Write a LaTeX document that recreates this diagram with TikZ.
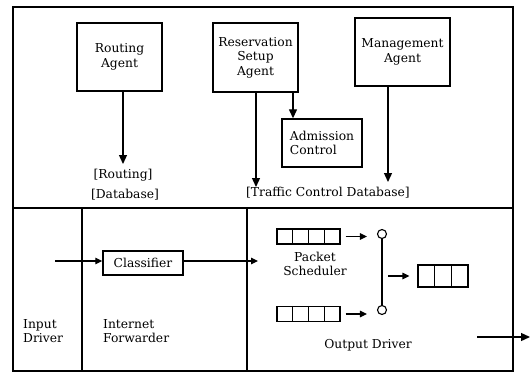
\documentclass[tikz,border=0pt]{standalone}
\usepackage{fontspec}
\setmainfont{DejaVu Serif}
\usetikzlibrary{arrows.meta,calc}
\begin{document}
\begin{tikzpicture}[x=1pt,y=-1pt,
  every node/.style={font=\fontsize{12.3}{14.5}\selectfont},
  frame/.style={line width=1.1pt},
  box/.style={draw,line width=1.4pt,rectangle,inner sep=0pt,align=center},
  lbl/.style={inner sep=0pt,align=center},
  lbll/.style={inner sep=0pt,align=left},
  arr/.style={line width=1.3pt,-{Triangle[length=9pt,width=8pt]}},
  sarr/.style={line width=1.2pt,-{Triangle[length=7pt,width=6.5pt]}},
  queue/.style={draw,line width=1.2pt,rectangle,inner sep=0pt},
  sw/.style={draw,line width=1.1pt,circle,inner sep=0pt,minimum size=9pt}]
\useasboundingbox (0,0) rectangle (530,372);
% frame
\draw[frame] (13,7) rectangle (513,371);
\draw[frame] (13,208) -- (513,208);
\draw[frame] (82,208) -- (82,371);
\draw[frame] (247,208) -- (247,371);
% top boxes
\node[box,minimum width=85pt,minimum height=68pt] (ra) at (119.5,57) {Routing\\Agent};
\node[box,minimum width=85pt,minimum height=69pt] (rsa) at (255.5,57.5) {Reservation\\Setup\\Agent};
\node[box,minimum width=95pt,minimum height=68pt] (ma) at (402.5,52) {Management\\Agent};
\node[box,minimum width=80pt,minimum height=48pt,align=left] (ac) at (322,143) {Admission\\Control};
% labels
\node[lbl] (rl) at (123,175) {[Routing]};
\node[lbl] (dl) at (125,195) {[Database]};
\node[lbl,anchor=west] (tcd) at (246,193) {[Traffic Control Database]};
% top arrows
\coordinate (ra1) at (123,91);
\coordinate (ra2) at (123,164);
\draw[arr] (ra1) -- (ra2);
\coordinate (rs1) at (256,92);
\coordinate (rs2) at (256,187);
\draw[arr] (rs1) -- (rs2);
\coordinate (ma1) at (388,86);
\coordinate (ma2) at (388,182);
\draw[arr] (ma1) -- (ma2);
\draw[arr] (rsa.south -| 293,0) -- (ac.north -| 293,0);
% bottom left
\node[box,minimum width=80pt,minimum height=24pt] (cl) at (143,263) {Classifier};
\coordinate (in) at (55,261);
\coordinate (cout) at (258,261);
\draw[sarr] (in) -- (in -| cl.west);
\draw[sarr] (cout -| cl.east) -- (cout);
\node[lbll,anchor=west] (idr) at (23,331) {Input\\Driver};
\node[lbll,anchor=west] (ifw) at (103,331) {Internet\\Forwarder};
% scheduler
\node[queue,minimum width=63pt,minimum height=15pt] (q1) at (308.5,236.5) {};
\node[queue,minimum width=63pt,minimum height=15pt] (q2) at (308.5,314) {};
\node[queue,minimum width=50pt,minimum height=22pt] (q3) at (443,276) {};
\foreach \q in {q1,q2}{
  \foreach \i in {1,2,3}{
    \draw[line width=1.2pt] ($(\q.north west)!\i/4!(\q.north east)$) -- ($(\q.south west)!\i/4!(\q.south east)$);
  }
}
\foreach \i in {1,2}{
  \draw[line width=1.2pt] ($(q3.north west)!\i/3!(q3.north east)$) -- ($(q3.south west)!\i/3!(q3.south east)$);
}
\node[sw] (s1) at (382,234) {};
\node[sw] (s2) at (382,310) {};
\draw[line width=1.2pt] (s1) -- (s2);
\draw[sarr,shorten <=5pt,shorten >=10pt] (q1.east) -- (q1.east -| s1.west);
\draw[sarr,shorten <=5pt,shorten >=10pt] (q2.east) -- (q2.east -| s2.west);
\coordinate (mid) at (382,276);
\draw[sarr,shorten <=6pt,shorten >=8pt] (mid) -- (q3.west);
\node[lbl] (ps) at (315,264) {Packet\\Scheduler};
\node[lbl] (od) at (368,345) {Output Driver};
\coordinate (o1) at (477,337);
\coordinate (o2) at (530,337);
\draw[arr] (o1) -- (o2);
\end{tikzpicture}
\end{document}
